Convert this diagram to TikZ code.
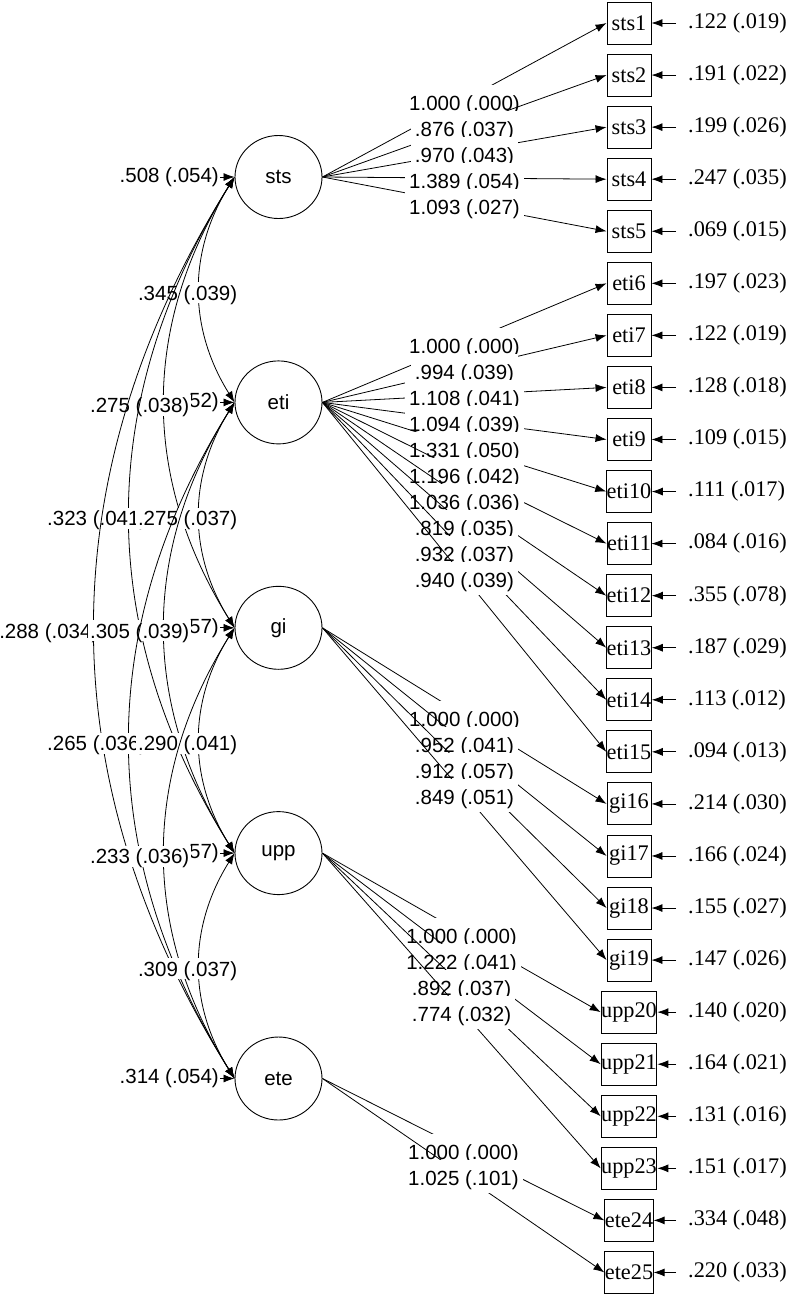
\documentclass[tikz,border=0pt]{standalone}
\usepackage{fontspec}
\setmainfont{Liberation Serif}
\setsansfont{Liberation Sans}
\usetikzlibrary{arrows.meta,shapes.geometric}
\begin{document}
\begin{tikzpicture}[x=1pt,y=-1pt,
  lat/.style={ellipse, draw, line width=0.9pt, minimum width=87pt, minimum height=83pt, inner sep=0pt, font=\sffamily\fontsize{20.5}{24}\selectfont},
  ind/.style={rectangle, draw, line width=0.9pt, minimum width=44pt, minimum height=42pt, inner sep=0pt, font=\fontsize{22.3}{26}\selectfont},
  err/.style={anchor=west, inner xsep=12pt, inner ysep=0pt, font=\fontsize{22.3}{26}\selectfont},
  var/.style={anchor=east, inner xsep=1pt, inner ysep=0pt, font=\sffamily\fontsize{20.5}{24}\selectfont},
  cov/.style={fill=white, inner xsep=2pt, inner ysep=0pt, text height=18pt, text depth=3pt, font=\sffamily\fontsize{20.5}{24}\selectfont},
  lab/.style={fill=white, inner xsep=4pt, inner ysep=4pt, text height=21.5pt, text depth=3.5pt, font=\sffamily\fontsize{20.5}{24}\selectfont, yshift=-1.5pt},
  arr/.style={line width=0.8pt, -{Latex[length=11pt,width=8pt]}},
  covarr/.style={line width=0.8pt, {Latex[length=11pt,width=8pt]}-{Latex[length=11pt,width=8pt]}},
]
\useasboundingbox (0,0) rectangle (787,1296);

% latent variables
\node[lat] (sts) at (278.5,177) {sts};
\node[lat] (eti) at (278.5,402.4) {eti};
\node[lat] (gi)  at (278.5,627.8) {gi};
\node[lat] (upp) at (278.5,853.1) {upp};
\node[lat] (ete) at (278.5,1078.5) {ete};

% indicators
\foreach \n [count=\i] in {sts1,sts2,sts3,sts4,sts5,eti6,eti7,eti8,eti9,eti10,eti11,eti12,eti13,eti14,eti15,gi16,gi17,gi18,gi19,upp20,upp21,upp22,upp23,ete24,ete25}
  \node[ind] (b\i) at (629,{23+52.06*(\i-1)}) {\n};

% latent variances
\node[var] (vsts) at (220,177) {.508 (.054)};
\node[var] (veti) at (220,402.4) {52)};
\node[var] (vgi)  at (220,627.8) {57)};
\node[var] (vupp) at (220,853.1) {57)};
\node[var] (vete) at (220,1078.5) {.314 (.054)};
\draw[arr] (vsts.east) -- (sts.west);
\draw[arr] (veti.east) -- (eti.west);
\draw[arr] (vgi.east) -- (gi.west);
\draw[arr] (vupp.east) -- (upp.west);
\draw[arr] (vete.east) -- (ete.west);

% covariances
\draw[covarr] (sts.west) to[bend right=32] node[cov, xshift=-12pt, yshift=-3pt] (c12) {.345 (.039)} (eti.west);
\draw[covarr] (sts.west) to[bend right=32] node[cov, xshift=-25pt, yshift=-3pt] (c13) {.275 (.038)} (gi.west);
\draw[covarr] (sts.west) to[bend right=32] node[cov, xshift=-33pt, yshift=-3pt] (c14) {.323 (.041)} (upp.west);
\draw[covarr] (sts.west) to[bend right=32] node[cov, xshift=-46pt, yshift=-3pt] (c15) {.288 (.034)} (ete.west);
\draw[covarr] (eti.west) to[bend right=32] node[cov, xshift=-12pt, yshift=-3pt] (c23) {.275 (.037)} (gi.west);
\draw[covarr] (eti.west) to[bend right=32] node[cov, xshift=-25pt, yshift=-3pt] (c24) {.305 (.039)} (upp.west);
\draw[covarr] (eti.west) to[bend right=32] node[cov, xshift=-33pt, yshift=-3pt] (c25) {.265 (.036)} (ete.west);
\draw[covarr] (gi.west) to[bend right=32] node[cov, xshift=-12pt, yshift=-3pt] (c34) {.290 (.041)} (upp.west);
\draw[covarr] (gi.west) to[bend right=32] node[cov, xshift=-25pt, yshift=-3pt] (c35) {.233 (.036)} (ete.west);
\draw[covarr] (upp.west) to[bend right=32] node[cov, xshift=-12pt, yshift=-3pt] (c45) {.309 (.037)} (ete.west);

% loadings
\foreach \i/\l/\t in {1/sts/{1.000 (.000)},2/sts/{.876 (.037)},3/sts/{.970 (.043)},4/sts/{1.389 (.054)},5/sts/{1.093 (.027)},
  6/eti/{1.000 (.000)},7/eti/{.994 (.039)},8/eti/{1.108 (.041)},9/eti/{1.094 (.039)},10/eti/{1.331 (.050)},11/eti/{1.196 (.042)},12/eti/{1.036 (.036)},13/eti/{.819 (.035)},14/eti/{.932 (.037)},15/eti/{.940 (.039)},
  16/gi/{1.000 (.000)},17/gi/{.952 (.041)},18/gi/{.912 (.057)},19/gi/{.849 (.051)},
  20/upp/{1.000 (.000)},21/upp/{1.222 (.041)},22/upp/{.892 (.037)},23/upp/{.774 (.032)},
  24/ete/{1.000 (.000)},25/ete/{1.025 (.101)}}
  \draw[arr] (\l.east) -- node[lab] (l\i) {\t} (b\i.west);

% error variances
\foreach \t [count=\i] in {{.122 (.019)},{.191 (.022)},{.199 (.026)},{.247 (.035)},{.069 (.015)},{.197 (.023)},{.122 (.019)},{.128 (.018)},{.109 (.015)},{.111 (.017)},{.084 (.016)},{.355 (.078)},{.187 (.029)},{.113 (.012)},{.094 (.013)},{.214 (.030)},{.166 (.024)},{.155 (.027)},{.147 (.026)},{.140 (.020)},{.164 (.021)},{.131 (.016)},{.151 (.017)},{.334 (.048)},{.220 (.033)}}
{
  \node[err] (e\i) at (676,{23+52.06*(\i-1)}) {\t};
  \draw[arr] (e\i.west) -- (b\i.east);
}
\end{tikzpicture}
\end{document}
